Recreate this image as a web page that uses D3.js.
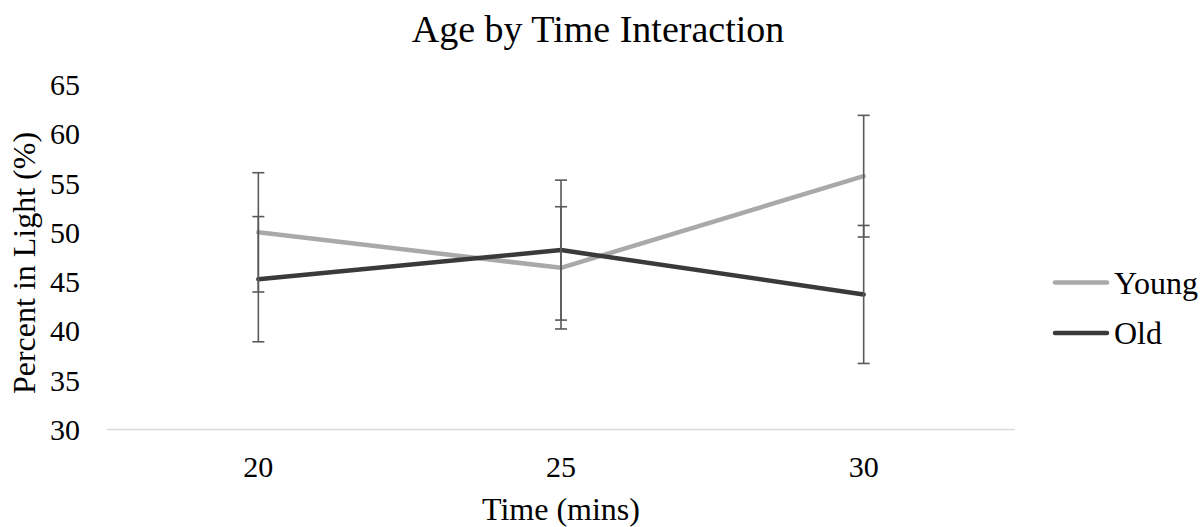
<!DOCTYPE html>
<html>
<head>
<meta charset="utf-8">
<script src="https://cdn.jsdelivr.net/npm/d3@7"></script>
<style>
  body { margin: 0; background: #fff; }
  svg { display: block; font-family: "Liberation Serif", "Times New Roman", serif; }
</style>
</head>
<body>
<div id="chart"></div>
<script>
"use strict";
const times = ["20", "25", "30"];
const youngMeans = [50.0, 46.4, 55.7];
const youngErr = [6.05, 6.2, 6.17];
const oldMeans = [45.25, 48.2, 43.7];
const oldErr = [6.35, 7.1, 7.0];
const yTicks = [30, 35, 40, 45, 50, 55, 60, 65];

const series = [
  { name: "Young", means: youngMeans, err: youngErr, color: "#a9a9a9" },
  { name: "Old", means: oldMeans, err: oldErr, color: "#3a3a3a" }
];

const width = 1202, height = 527;
const margin = { top: 84.5, right: 187, bottom: 97.5, left: 107 };

const svg = d3.select("#chart").append("svg")
  .attr("width", width)
  .attr("height", height);

const x = d3.scaleBand()
  .domain(times)
  .range([margin.left, width - margin.right]);

const y = d3.scaleLinear()
  .domain([30, 65])
  .range([height - margin.bottom, margin.top]);

// title
svg.append("text")
  .attr("x", 598)
  .attr("y", 42)
  .attr("text-anchor", "middle")
  .style("font-size", "38px")
  .text("Age by Time Interaction");

// bottom axis line
svg.append("line")
  .attr("x1", margin.left)
  .attr("x2", width - margin.right)
  .attr("y1", y(30))
  .attr("y2", y(30))
  .attr("stroke", "#d9d9d9")
  .attr("stroke-width", 1.3);

// y tick labels
svg.selectAll(".ytick")
  .data(yTicks)
  .join("text")
  .attr("class", "ytick")
  .attr("x", 80)
  .attr("y", d => y(d))
  .attr("dy", "0.35em")
  .attr("text-anchor", "end")
  .style("font-size", "30px")
  .text(d => d);

// x tick labels
svg.selectAll(".xtick")
  .data(times)
  .join("text")
  .attr("class", "xtick")
  .attr("x", d => x(d) + x.bandwidth() / 2)
  .attr("y", 477)
  .attr("text-anchor", "middle")
  .style("font-size", "30px")
  .text(d => d);

// axis titles
svg.append("text")
  .attr("x", 561)
  .attr("y", 520)
  .attr("text-anchor", "middle")
  .style("font-size", "32px")
  .text("Time (mins)");

svg.append("text")
  .attr("transform", "translate(35,263) rotate(-90)")
  .attr("text-anchor", "middle")
  .style("font-size", "32px")
  .text("Percent in Light (%)");

const cx = d => x(d) + x.bandwidth() / 2;

const line = d3.line()
  .x(d => cx(d.t))
  .y(d => y(d.v));

// lines
series.forEach(s => {
  const pts = times.map((t, i) => ({ t: t, v: s.means[i] }));
  svg.append("path")
    .datum(pts)
    .attr("fill", "none")
    .attr("stroke", s.color)
    .attr("stroke-width", 4.5)
    .attr("stroke-linejoin", "round")
    .attr("stroke-linecap", "round")
    .attr("d", line);
});

// error bars
series.forEach(s => {
  times.forEach((t, i) => {
    const lo = s.means[i] - s.err[i];
    const hi = s.means[i] + s.err[i];
    const g = svg.append("g").attr("stroke", "#595959").attr("stroke-width", 1.6);
    g.append("line")
      .attr("x1", cx(t)).attr("x2", cx(t))
      .attr("y1", y(lo)).attr("y2", y(hi));
    [lo, hi].forEach(v => {
      g.append("line")
        .attr("x1", cx(t) - 6).attr("x2", cx(t) + 6)
        .attr("y1", y(v)).attr("y2", y(v));
    });
  });
});

// legend
const legend = svg.selectAll(".legend")
  .data(series)
  .join("g")
  .attr("class", "legend")
  .attr("transform", (d, i) => `translate(1055,${282.5 + i * 50.5})`);

legend.append("line")
  .attr("x1", 0).attr("x2", 52)
  .attr("stroke", d => d.color)
  .attr("stroke-width", 4.5)
  .attr("stroke-linecap", "round");

legend.append("text")
  .attr("x", 59)
  .attr("dy", "0.35em")
  .style("font-size", "32px")
  .text(d => d.name);
</script>
</body>
</html>
